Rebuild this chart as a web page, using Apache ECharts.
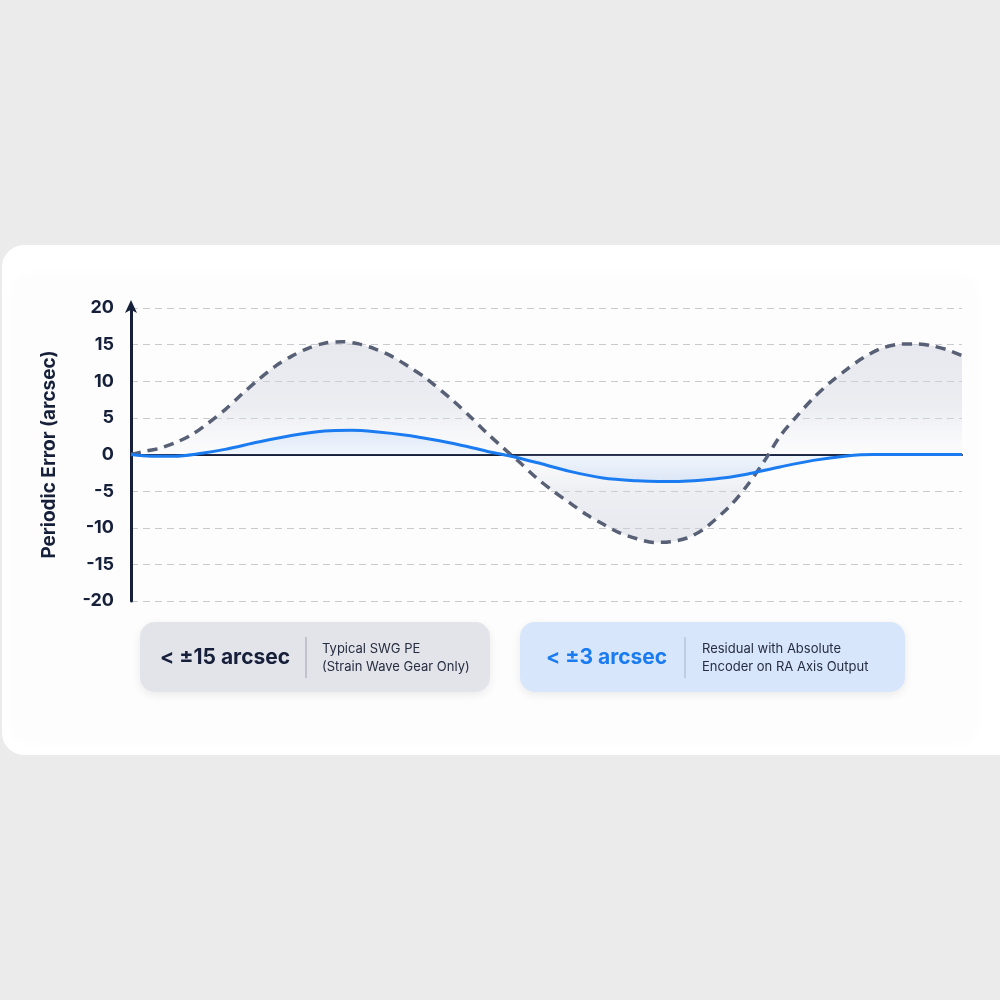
<!DOCTYPE html>
<html>
<head>
<meta charset="utf-8">
<title>Periodic Error</title>
<script type="text/javascript" src="https://cdn.jsdelivr.net/npm/echarts@6/dist/echarts.min.js"></script>
<style>
  html, body { margin: 0; padding: 0; background: #ebebeb; }
</style>
</head>
<body>
<div id="main" style="width: 1000px; height: 1000px;"></div>
<script type="text/javascript">
// x is position along one cycle, 0..100 (no labels on the x axis)
// typical strain wave gear PE (dashed grey)
var swgX = [0, 1.7, 3.3, 5.3, 7.3, 9.3, 11.3, 13.3, 15.3, 17.3, 19.3, 21.3, 23.3, 25.4, 27.4, 29.4, 31.4, 33.4, 35.4,
            38.8, 40.8, 42.8, 44.8, 46.8, 48.8, 50.8, 52.8, 54.8, 56.8, 58.8, 60.9, 62.9, 64.9, 66.9, 68.9,
            72.1, 74.1, 76.1, 78.1, 80.1, 82.1, 84.1, 86.1, 88.1, 90.1, 92.1, 94.1, 96.1, 98.2, 100];
var swgPE = [0, 0.45, 0.8, 1.6, 2.7, 4.3, 6.1, 8.2, 10.2, 12.0, 13.4, 14.5, 15.2, 15.4, 15.1, 14.4, 13.4, 12.0, 10.5,
             7.3, 5.2, 2.95, 0.9, -1.1, -3.2, -5.0, -6.6, -8.2, -9.5, -10.7, -11.5, -12.0, -11.9, -11.4, -10.2,
             -7.0, -4.3, -1.1, 2.5, 5.2, 7.7, 9.8, 11.6, 13.2, 14.4, 15.0, 15.1, 14.9, 14.3, 13.5];
// residual with absolute encoder (blue)
var resX = [0, 2.4, 5.3, 8.1, 11.3, 15.3, 19.3, 23.3, 26.5, 29.4, 33.4, 35.2, 38.8, 42.8, 45.6, 48.8, 52.8, 56.8,
            60.9, 63.5, 66.5, 69.5, 72, 74.1, 78.1, 82.1, 86.1, 89.3, 95, 100];
var residual = [0, -0.23, -0.23, 0.1, 0.7, 1.7, 2.6, 3.2, 3.3, 3.1, 2.6, 2.25, 1.5, 0.45, -0.2, -1.1, -2.3, -3.2,
                -3.6, -3.7, -3.65, -3.4, -3.1, -2.7, -1.7, -0.8, -0.2, 0, 0, 0];

var yName = 'Periodic Error (arcsec)';
var badges = [
  { big: '< \u00b115 arcsec', small: ['Typical SWG PE', '(Strain Wave Gear Only)'] },
  { big: '< \u00b13 arcsec', small: ['Residual with Absolute', 'Encoder on RA Axis Output'] }
];

var ink = '#17203a';
var blue = '#1a7cf0';
var font = 'Inter, "Noto Sans", sans-serif';

function pairs(xs, vals) {
  return xs.map(function (x, i) { return [x, vals[i]]; });
}
// where zero sits inside each area's box, so the fill fades toward the axis
function zeroStop(vals) {
  var mx = Math.max.apply(null, vals), mn = Math.min.apply(null, vals);
  return mx / (mx - mn);
}

var myChart = echarts.init(document.getElementById('main'));
var z1 = zeroStop(swgPE), z2 = zeroStop(residual);

var option = {
  backgroundColor: '#ebebeb',
  animation: false,
  grid: { left: 131, right: 38, top: 308, bottom: 399 },
  xAxis: {
    type: 'value', min: 0, max: 100,
    axisLine: { onZero: true, lineStyle: { color: ink, width: 2 } },
    axisTick: { show: false },
    axisLabel: { show: false },
    splitLine: { show: false }
  },
  yAxis: {
    type: 'value', min: -20, max: 20, interval: 5,
    name: yName,
    nameLocation: 'middle',
    nameGap: 72,
    nameTextStyle: { fontSize: 19, fontWeight: 'bold', color: ink, fontFamily: font },
    axisLine: {
      show: true, onZero: false,
      symbol: ['none', 'arrow'], symbolSize: [9, 13], symbolOffset: [0, 8],
      lineStyle: { color: ink, width: 3 }
    },
    axisTick: { show: false },
    axisLabel: { margin: 17, fontSize: 18, fontWeight: 'bold', color: ink, fontFamily: font },
    splitLine: { lineStyle: { color: '#c8cad0', width: 1.2, type: [7, 5] } }
  },
  series: [
    {
      name: 'Typical SWG PE',
      type: 'line',
      data: pairs(swgX, swgPE),
      smooth: 0.3,
      showSymbol: false,
      lineStyle: { color: '#586076', width: 3.5, type: [10, 7] },
      areaStyle: {
        origin: 0,
        color: new echarts.graphic.LinearGradient(0, 0, 0, 1, [
          { offset: 0, color: 'rgba(205,208,220,0.65)' },
          { offset: z1 * 0.6, color: 'rgba(210,212,224,0.55)' },
          { offset: z1, color: 'rgba(235,237,244,0.15)' },
          { offset: Math.min(1, z1 + (1 - z1) * 0.4), color: 'rgba(210,212,224,0.5)' },
          { offset: 1, color: 'rgba(205,208,220,0.65)' }
        ])
      },
      z: 2
    },
    {
      name: 'Residual',
      type: 'line',
      data: pairs(resX, residual),
      smooth: 0.3,
      showSymbol: false,
      lineStyle: { color: blue, width: 3 },
      areaStyle: {
        origin: 0,
        color: new echarts.graphic.LinearGradient(0, 0, 0, 1, [
          { offset: 0, color: 'rgba(60,140,245,0.18)' },
          { offset: z2, color: 'rgba(60,140,245,0.08)' },
          { offset: 1, color: 'rgba(60,140,245,0.18)' }
        ])
      },
      z: 3
    }
  ],
  graphic: [
    {
      type: 'rect', z: -10,
      shape: { x: 2, y: 245, width: 1030, height: 510, r: 22 },
      style: { fill: '#ffffff' }
    },
    {
      type: 'rect', z: -9,
      shape: { x: 14, y: 278, width: 960, height: 462, r: 10 },
      style: { fill: '#fdfdfd', shadowBlur: 20, shadowColor: 'rgba(0,0,0,0.02)' }
    },
    {
      type: 'group', left: 140, top: 622,
      children: [
        { type: 'rect', shape: { x: 0, y: 0, width: 350, height: 70, r: 15 },
          style: { fill: '#e3e4ea', shadowBlur: 10, shadowOffsetY: 3, shadowColor: 'rgba(0,0,0,0.08)' } },
        { type: 'text', style: { x: 20, y: 36, text: badges[0].big, fill: ink, fontSize: 21, fontWeight: 700, fontFamily: font, verticalAlign: 'middle' } },
        { type: 'line', shape: { x1: 166, y1: 15, x2: 166, y2: 56 }, style: { stroke: '#9ea2ad', lineWidth: 1 } },
        { type: 'text', style: { x: 182, y: 27, text: badges[0].small[0], fill: '#262d40', fontSize: 13, fontFamily: font, verticalAlign: 'middle' } },
        { type: 'text', style: { x: 182, y: 45, text: badges[0].small[1], fill: '#262d40', fontSize: 13, fontFamily: font, verticalAlign: 'middle' } }
      ]
    },
    {
      type: 'group', left: 520, top: 622,
      children: [
        { type: 'rect', shape: { x: 0, y: 0, width: 385, height: 70, r: 15 },
          style: { fill: '#d8e6fb', shadowBlur: 10, shadowOffsetY: 3, shadowColor: 'rgba(0,0,0,0.08)' } },
        { type: 'text', style: { x: 26, y: 36, text: badges[1].big, fill: blue, fontSize: 21, fontWeight: 700, fontFamily: font, verticalAlign: 'middle' } },
        { type: 'line', shape: { x1: 165, y1: 15, x2: 165, y2: 56 }, style: { stroke: '#a4b4cc', lineWidth: 1 } },
        { type: 'text', style: { x: 182, y: 27, text: badges[1].small[0], fill: '#262d40', fontSize: 13, fontFamily: font, verticalAlign: 'middle' } },
        { type: 'text', style: { x: 182, y: 45, text: badges[1].small[1], fill: '#262d40', fontSize: 13, fontFamily: font, verticalAlign: 'middle' } }
      ]
    }
  ]
};
myChart.setOption(option);
</script>
</body>
</html>
